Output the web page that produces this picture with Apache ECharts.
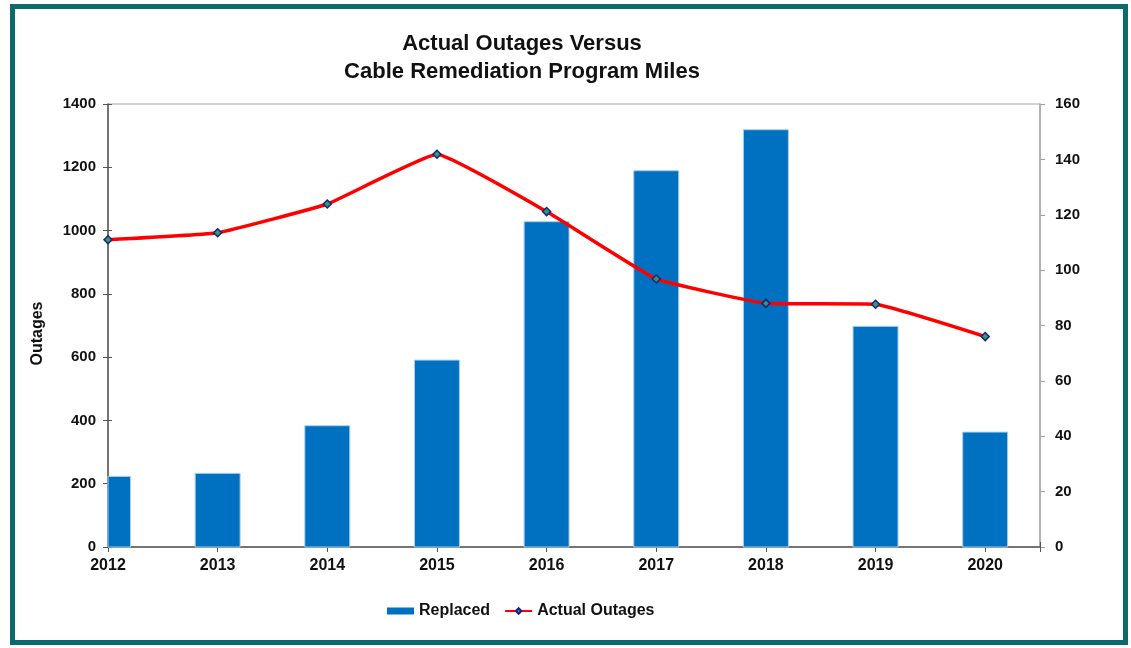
<!DOCTYPE html>
<html>
<head>
<meta charset="utf-8">
<script src="https://cdn.jsdelivr.net/npm/echarts@6/dist/echarts.min.js"></script>
<style>
html,body{margin:0;padding:0;background:#fff;}
#chart{width:1131px;height:648px;}
</style>
</head>
<body>
<div id="chart"></div>
<script>
// Data
var years = [2012, 2013, 2014, 2015, 2016, 2017, 2018, 2019, 2020];
var replacedMiles = [25.5, 26.6, 43.8, 67.5, 117.5, 135.9, 150.7, 79.7, 41.5];
var actualOutages = [971, 993, 1084, 1241, 1060, 847, 770, 767, 665];
var leftTicks = {min: 0, max: 1400, interval: 200};
var rightTicks = {min: 0, max: 160, interval: 20};

var FONT = '"Liberation Sans", Arial, sans-serif';
var chart = echarts.init(document.getElementById('chart'), null, {renderer: 'canvas'});

var barData = years.map(function (y, i) { return [y, replacedMiles[i]]; });
var lineData = years.map(function (y, i) { return [y, actualOutages[i]]; });

var BAR_FRACTION = 0.41; // bar width as a fraction of one year on the axis
var X_MIN = 2012, X_MAX = 2020.5;

function renderBar(params, api) {
  var x = api.value(0), v = api.value(1);
  var top = api.coord([x, v]);
  var base = api.coord([x, 0]);
  var w = api.size([1, 0])[0] * BAR_FRACTION;
  var cs = params.coordSys;
  var shape = echarts.graphic.clipRectByRect(
    {x: top[0] - w / 2, y: top[1], width: w, height: base[1] - top[1]},
    {x: cs.x, y: cs.y, width: cs.width, height: cs.height}
  );
  if (!shape) return;
  return {
    type: 'rect',
    shape: shape,
    style: {fill: '#0070c0', stroke: '#a9cdef', lineWidth: 1}
  };
}

var labelStyle = {fontFamily: FONT, fontWeight: 'bold', color: '#111'};

chart.setOption({
  animation: false,
  backgroundColor: '#ffffff',
  textStyle: {fontFamily: FONT},
  title: {
    text: 'Actual Outages Versus\nCable Remediation Program Miles',
    left: 522,
    textAlign: 'center',
    top: 30,
    padding: 0,
    textStyle: {fontFamily: FONT, fontSize: 22, fontWeight: 'bold', color: '#111', lineHeight: 28}
  },
  legend: {
    left: 387,
    top: 603,
    padding: 0,
    itemGap: 14,
    itemWidth: 27,
    itemHeight: 7,
    textStyle: {fontFamily: FONT, fontSize: 16, fontWeight: 'bold', color: '#111'},
    data: [
      {name: 'Replaced', icon: 'rect', itemStyle: {color: '#0070c0', borderWidth: 0}},
      {name: 'Actual Outages'}
    ]
  },
  grid: {
    left: 108, right: 91, top: 104, bottom: 101,
    show: true, borderColor: '#a6a6a6', borderWidth: 1, backgroundColor: 'transparent'
  },
  xAxis: [
    {
      type: 'value',
      min: X_MIN, max: X_MAX, interval: 1,
      axisLine: {show: true, lineStyle: {color: '#555', width: 1.5}},
      axisTick: {show: true, length: 5, lineStyle: {color: '#555'}},
      splitLine: {show: false},
      axisLabel: Object.assign({
        margin: 11, fontSize: 16,
        formatter: function (v) { return (v % 1 === 0) ? String(v) : ''; }
      }, labelStyle)
    },
    {
      // inner half of the crossing tick marks
      type: 'value', position: 'bottom',
      min: X_MIN, max: X_MAX, interval: 1,
      axisLine: {show: false},
      axisTick: {show: true, inside: true, length: 5, lineStyle: {color: '#555'}},
      axisLabel: {show: false},
      splitLine: {show: false}
    }
  ],
  yAxis: [
    {
      type: 'value', position: 'left',
      min: leftTicks.min, max: leftTicks.max, interval: leftTicks.interval,
      name: 'Outages', nameLocation: 'middle', nameGap: 62, nameRotate: 90,
      nameTextStyle: {fontFamily: FONT, fontSize: 16, fontWeight: 'bold', color: '#111', padding: [0, 0, 0, -16]},
      axisLine: {show: true, lineStyle: {color: '#555', width: 1.5}},
      axisTick: {show: true, length: 5, lineStyle: {color: '#555'}},
      splitLine: {show: false},
      axisLabel: Object.assign({margin: 12, fontSize: 15,
        formatter: function (v) { return String(v); }}, labelStyle)
    },
    {
      type: 'value', position: 'right',
      min: rightTicks.min, max: rightTicks.max, interval: rightTicks.interval,
      axisLine: {show: true, lineStyle: {color: '#a6a6a6', width: 1.5}},
      axisTick: {show: true, length: 5, lineStyle: {color: '#a6a6a6'}},
      splitLine: {show: false},
      axisLabel: Object.assign({margin: 15, fontSize: 15,
        formatter: function (v) { return String(v); }}, labelStyle)
    },
    {
      // inner half of the crossing tick marks on the left axis
      type: 'value', position: 'left',
      min: leftTicks.min, max: leftTicks.max, interval: leftTicks.interval,
      axisLine: {show: false},
      axisTick: {show: true, inside: true, length: 4, lineStyle: {color: '#555'}},
      axisLabel: {show: false},
      splitLine: {show: false}
    }
  ],
  series: [
    {
      name: 'Replaced',
      type: 'custom',
      yAxisIndex: 1,
      renderItem: renderBar,
      encode: {x: 0, y: 1},
      data: barData,
      itemStyle: {color: '#0070c0'},
      z: 2
    },
    {
      name: 'Actual Outages',
      type: 'line',
      yAxisIndex: 0,
      smooth: 0.1,
      data: lineData,
      symbol: 'diamond',
      symbolSize: 8,
      showAllSymbol: true,
      lineStyle: {color: '#ff0000', width: 3.5},
      itemStyle: {color: '#2fa05a', borderColor: '#1b1f8a', borderWidth: 1.5},
      z: 5
    }
  ],
  graphic: [
    {
      type: 'rect',
      shape: {x: 12.5, y: 6.5, width: 1113, height: 636},
      style: {fill: 'none', stroke: '#0b6b6c', lineWidth: 5},
      z: 100,
      silent: true
    }
  ]
});
</script>
</body>
</html>
